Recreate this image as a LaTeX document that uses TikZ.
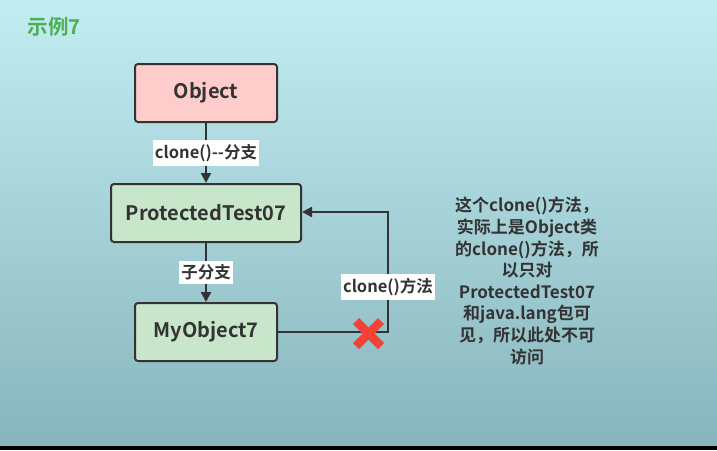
\documentclass[tikz,border=0pt]{standalone}
\usepackage{fontspec}
\setmainfont{Noto Sans CJK SC}[BoldFont={Noto Sans CJK SC Bold}]
\usetikzlibrary{arrows.meta}
\definecolor{bgtop}{RGB}{193,237,243}
\definecolor{bgbot}{RGB}{136,180,187}
\definecolor{pinkfill}{RGB}{255,204,204}
\definecolor{greenfill}{RGB}{200,230,201}
\definecolor{edge}{RGB}{51,51,51}
\definecolor{titlegreen}{RGB}{76,175,80}
\definecolor{redx}{RGB}{244,67,54}
\tikzset{
  box/.style={draw=edge, line width=2pt, rounded corners=3pt, minimum height=58pt, font=\bfseries\fontsize{20}{22}\selectfont, text=edge, inner sep=0pt},
  conn/.style={draw=edge, line width=2.2pt, -{Triangle[length=10pt,width=10pt]}},
  lbl/.style={fill=white, text=edge, font=\bfseries\fontsize{16.5}{18}\selectfont, inner xsep=2pt, inner ysep=4pt},
}
\begin{document}
\begin{tikzpicture}[x=1pt,y=-1pt]
\useasboundingbox (0,0) rectangle (717,450);
\shade[top color=bgtop, bottom color=bgbot] (0,0) rectangle (717,446);
\fill[black] (0,446) rectangle (717,450);
\node[anchor=west, text=titlegreen, font=\bfseries\fontsize{20.5}{22}\selectfont] (title) at (24,27) {示例7};
\node[box, fill=pinkfill, minimum width=142pt] (obj) at (206,93) {\raisebox{-1pt}{Object}};
\node[box, fill=greenfill, minimum width=190pt] (pt) at (206,213) {\raisebox{-1pt}{ProtectedTest07}};
\node[box, fill=greenfill, minimum width=142pt] (my) at (206,332) {\raisebox{-1pt}{MyObject7}};
\draw[conn] (obj) -- node[lbl] (l1) {clone(){-}{-}分支} (pt);
\draw[conn] (pt) -- node[lbl] (l2) {子分支} (my);
\coordinate (c1) at (388,332);
\coordinate (c2) at (388,212);
\draw[conn] (my.east) -- (c1) -- (c2) -- (pt.east |- c2);
\node[lbl] (l3) at (388,287) {clone()方法};
\draw[redx, line width=8.5pt] (356,321) -- (381,346) (356,346) -- (381,321);
\node[text=edge, font=\bfseries\fontsize{17}{21.6}\selectfont, align=center, text width=170pt] (note) at (527,281)
 {这个clone()方法，\\实际上是Object类\\的clone()方法，所\\以只对\\ProtectedTest07\\和java.lang包可\\见，所以此处不可\\访问};
\end{tikzpicture}
\end{document}
